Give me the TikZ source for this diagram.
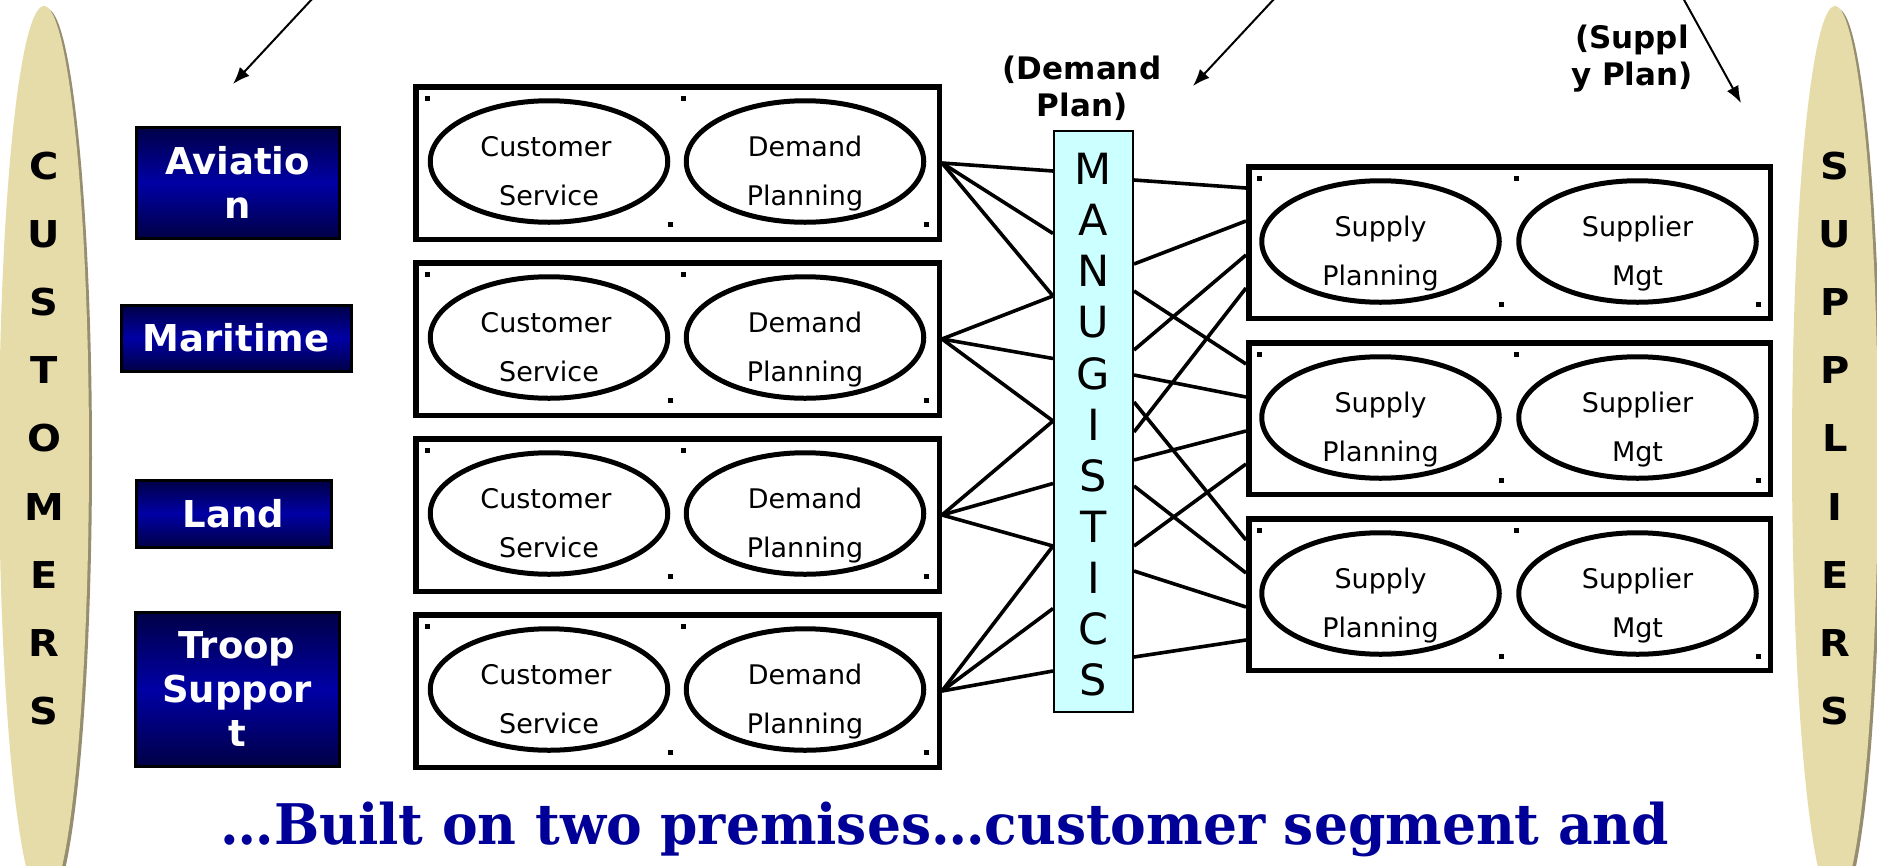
\documentclass[tikz,border=0pt]{standalone}
\usepackage{fontspec}
\setmainfont{DejaVu Sans}
\newfontfamily\titlefont{DejaVu Serif}
\usetikzlibrary{arrows.meta,shapes.geometric,calc}
\definecolor{tanfill}{RGB}{230,220,170}
\definecolor{tanshadow}{RGB}{150,142,110}
\definecolor{navydark}{RGB}{0,0,70}
\definecolor{navymid}{RGB}{0,0,165}
\definecolor{manucyan}{RGB}{204,255,255}
\definecolor{titleblue}{RGB}{0,0,153}
\tikzset{
 segbox/.style={draw=black,line width=3pt,top color=navydark,bottom color=navydark,middle color=navymid,text=white,font=\fontsize{37}{44}\selectfont\bfseries,align=center,inner sep=0pt},
 rowbox/.style={draw=black,line width=5.5pt,fill=white,minimum width=523.5pt,minimum height=152.5pt,inner sep=0pt},
 suppbox/.style={draw=black,line width=5.5pt,fill=white,minimum width=521.5pt,minimum height=151.5pt,inner sep=0pt},
 oval/.style={ellipse,draw=black,line width=5pt,minimum width=237.5pt,minimum height=121.5pt,inner sep=0pt},
 ovaltext/.style={font=\fontsize{27}{32}\selectfont,anchor=base,inner sep=0pt},
 dotmark/.style={fill=black,minimum size=5pt,inner sep=0pt},
 bigletter/.style={font=\fontsize{37}{42}\selectfont\bfseries,anchor=base,inner sep=0pt,xscale=1.08},
 manuletter/.style={font=\fontsize{43}{50}\selectfont,anchor=base,inner sep=0pt},
 manubox/.style={draw=black,line width=2pt,fill=manucyan,minimum width=79pt,minimum height=581pt,inner sep=0pt},
 link/.style={line width=3.6pt},
 pointer/.style={line width=2pt,-{Latex[length=17pt,width=13pt]}},
 planlabel/.style={font=\fontsize{31}{37}\selectfont\bfseries,align=center,inner sep=0pt},
}
\begin{document}
\begin{tikzpicture}[x=1pt,y=-1pt]
\useasboundingbox (0,0) rectangle (1877,865);
\fill[white] (0,0) rectangle (1877,865);

% side ellipses
\fill[tanshadow] (47,458) ellipse [x radius=45pt, y radius=449pt];
\fill[tanfill] (44,455) ellipse [x radius=45pt, y radius=449pt];
\fill[tanshadow] (1838,458) ellipse [x radius=43pt, y radius=449pt];
\fill[tanfill] (1835,455) ellipse [x radius=43pt, y radius=449pt];
\foreach \ch [count=\k from 0] in {C,U,S,T,O,M,E,R,S}
  \node[bigletter] (cust\k) at (44,{166+68.1*\k+13.5}) {\ch};
\foreach \ch [count=\k from 0] in {S,U,P,P,L,I,E,R,S}
  \node[bigletter] (supl\k) at (1835,{166+68.1*\k+13.5}) {\ch};

% segment boxes
\node[segbox,minimum width=203pt,minimum height=111pt] (aviation) at (237.5,182.5) {Aviatio\\n};
\node[segbox,minimum width=230pt,minimum height=66pt] (maritime) at (236,338) {Maritime};
\node[segbox,minimum width=195pt,minimum height=67pt] (land) at (233.5,513.5) {Land};
\node[segbox,minimum width=204pt,minimum height=154pt] (troop) at (237,689) {Troop\\Suppor\\t};

% demand rows
\foreach \r/\cy in {1/163,2/339,3/515,4/691} {
  \node[rowbox] (d\r) at (677.5,\cy) {};
  \node[oval] (cs\r) at (549,\cy-1.5) {};
  \node[oval] (dp\r) at (805,\cy-1.5) {};
  \node[ovaltext] (csa\r) at (546,\cy-6.5) {Customer};
  \node[ovaltext] (csb\r) at (549,\cy+42.5) {Service};
  \node[ovaltext] (dpa\r) at (805,\cy-6.5) {Demand};
  \node[ovaltext] (dpb\r) at (805,\cy+42.5) {Planning};
  \node[dotmark] (csnw\r) at (cs\r.west |- cs\r.north) {};
  \node[dotmark] (csse\r) at (cs\r.east |- cs\r.south) {};
  \node[dotmark] (dpnw\r) at (dp\r.west |- dp\r.north) {};
  \node[dotmark] (dpse\r) at (dp\r.east |- dp\r.south) {};
}

% supply rows
\foreach \r/\cy in {1/242.5,2/418.5,3/594.5} {
  \node[suppbox] (s\r) at (1509.5,\cy) {};
  \node[oval] (sp\r) at (1380.5,\cy-1) {};
  \node[oval] (sm\r) at (1637.5,\cy-1) {};
  \node[ovaltext] (spa\r) at (1380.5,\cy-6) {Supply};
  \node[ovaltext] (spb\r) at (1380.5,\cy+43) {Planning};
  \node[ovaltext] (sma\r) at (1637.5,\cy-6) {Supplier};
  \node[ovaltext] (smb\r) at (1637.5,\cy+43) {Mgt};
  \node[dotmark] (spnw\r) at (sp\r.west |- sp\r.north) {};
  \node[dotmark] (spse\r) at (sp\r.east |- sp\r.south) {};
  \node[dotmark] (smnw\r) at (sm\r.west |- sm\r.north) {};
  \node[dotmark] (smse\r) at (sm\r.east |- sm\r.south) {};
}

% MANUGISTICS
\node[manubox] (manu) at (1093.5,421.5) {};
\foreach \ch [count=\k from 0] in {M,A,N,U,G,I,S,T,I,C,S}
  \node[manuletter] (manu\k) at (1093.5,{169+51.1*\k+15.6}) {\ch};

% connectors left
\foreach \r in {1,2,3,4} {
  \foreach \j in {0,1,2} {
    \pgfmathsetmacro\kk{2*(\r-1)+\j}
    \draw[link] (d\r.east) -- ($(manu.north west)+(0,{41+62.5*\kk})$);
  }
}
% connectors right
\foreach \m/\s/\p in {50/1/24,134/1/57,161/2/24,220/1/91,245/2/57,272/3/24,302/1/124,330/2/91,356/3/57,416/2/124,441/3/91,527/3/124}
  \draw[link] ($(manu.north east)+(0,\m)$) -- ($(s\s.north west)+(0,\p)$);

% labels
\node[planlabel] (demandplan) at (1082,88) {(Demand\\Plan)};
\node[planlabel] (supplyplan) at (1632,59) {(Suppl\\y Plan)};

% arrows
\coordinate (arrAs) at (313,-2); \coordinate (arrAe) at (233,84);
\coordinate (arrBs) at (1275,-2); \coordinate (arrBe) at (1193,86);
\coordinate (arrCs) at (1683,-2); \coordinate (arrCe) at (1741,103);
\draw[pointer] (arrAs) -- (arrAe);
\draw[pointer] (arrBs) -- (arrBe);
\draw[pointer] (arrCs) -- (arrCe);

% title
\node[anchor=base,inner sep=0pt,text=titleblue,font=\titlefont\fontsize{56}{60}\selectfont\bfseries] (title) at (945,844) {\scalebox{0.955}[1]{…Built on two premises…customer segment and}};
\end{tikzpicture}
\end{document}
